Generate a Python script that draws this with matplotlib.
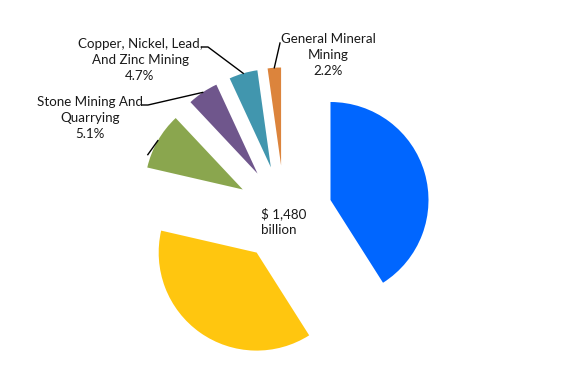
import numpy as np
import matplotlib.pyplot as plt

plt.rcParams['font.family'] = ['Lato', 'DejaVu Sans']

# slice shares in percent, clockwise from 12 o'clock
segments = ["Segment A", "Segment B", "Segment C",
            "Stone Mining And\nQuarrying",
            "Copper, Nickel, Lead,\nAnd Zinc Mining",
            "General Mineral\nMining"]
shares = [41.0, 37.6, 9.4, 5.1, 4.7, 2.2]
show_label = [False, False, False, True, True, True]
colors = ["#0066FF", "#FFC60F", "#8AA64E", "#6F568C", "#4196AE", "#DC843C"]
total_text = "$ 1,480\nbillion"

W, H = 581, 381
fig = plt.figure(figsize=(W / 100, H / 100), dpi=100)
ax = fig.add_axes([0, 0, 1, 1])

center = (284.4, H - 213.4)
radius = 98
wedges, _ = ax.pie(shares, colors=colors, startangle=90, counterclock=False,
                   explode=[48] * len(shares), radius=radius, center=center,
                   wedgeprops=dict(linewidth=0))

ax.set_xlim(0, W)
ax.set_ylim(0, H)
ax.set_aspect('equal')
ax.axis('off')


def outer_mid(w):
    t = np.deg2rad((w.theta1 + w.theta2) / 2)
    return w.center[0] + w.r * np.cos(t), w.center[1] + w.r * np.sin(t)


# label text position (centre of block) and elbow of the leader line
label_pos = {3: (90, H - 118), 4: (140, H - 60), 5: (328, H - 55)}
elbow = {3: [(142, H - 105), (148, H - 105)],
         4: [(202, H - 47), (208, H - 47)],
         5: [(280, H - 43)]}

for i, w in enumerate(wedges):
    px, py = outer_mid(w)
    if show_label[i]:
        txt = f"{segments[i]}\n{shares[i]:.1f}%"
        ax.text(*label_pos[i], txt, ha='center', va='center', fontsize=9.6,
                linespacing=1.42, color='#1a1a1a')
        pts = elbow[i] + [(px, py)]
        ax.plot([p[0] for p in pts], [p[1] for p in pts], color='black', lw=1)
    elif i == 2:
        # leader of the green slice, its label is cut away
        ax.plot([px, px - 10], [py, py - 14], color='black', lw=1)

ax.text(center[0] - 23, center[1] - 8, total_text, ha='left', va='center',
        fontsize=9.6, linespacing=1.42, color='#1a1a1a')

fig.savefig("out.png", dpi=100)
